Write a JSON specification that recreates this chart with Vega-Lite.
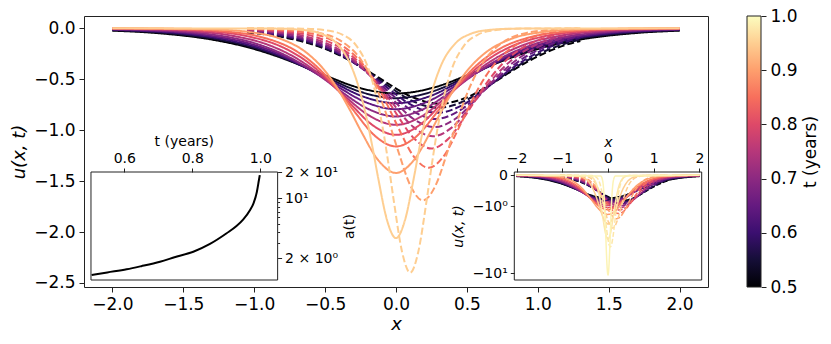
{
"$schema":"https://vega.github.io/schema/vega-lite/v6.json",
"autosize":"none","width":624,"height":271,
"padding":{"left":84,"top":16,"right":123,"bottom":57},
"background":"white",
"config":{"view":{"stroke":"#222","strokeWidth":1},"font":"DejaVu Sans",
"axis":{"labelFont":"DejaVu Sans","titleFont":"DejaVu Sans","labelColor":"#000","titleColor":"#000","tickColor":"#222","tickWidth":1,"titleFontWeight":"normal","grid":false,"labelFlush":false,"labelOverlap":false,"domain":false}},
"datasets":{
"a":[{"t":0.504,"a":1.278},{"t":0.55,"a":1.37},{"t":0.607,"a":1.489},{"t":0.65,"a":1.62},{"t":0.705,"a":1.826},{"t":0.75,"a":2.07},{"t":0.803,"a":2.386},{"t":0.852,"a":2.94},{"t":0.901,"a":3.91},{"t":0.93,"a":4.75},{"t":0.95,"a":5.68},{"t":0.97,"a":7.29},{"t":0.98,"a":8.73},{"t":0.99,"a":11.9},{"t":0.996,"a":16.3},{"t":0.9985,"a":18.6}],
"box1":[{"x0":0.502,"x1":1.051,"y0":1.118,"y1":20.2}],
"box2":[{"x0":-2.05,"x1":2.05,"y0":-12.17,"y1":0.071}],
"u":[
{"i":"s1","t":0.5,"k":"s","m":1,"x":-2,"u":-0.023},{"i":"s1","t":0.5,"k":"s","m":1,"x":-1.7,"u":-0.045},{"i":"s1","t":0.5,"k":"s","m":1,"x":-1.275,"u":-0.116},{"i":"s1","t":0.5,"k":"s","m":1,"x":-1.063,"u":-0.179},{"i":"s1","t":0.5,"k":"s","m":1,"x":-0.85,"u":-0.269},{"i":"s1","t":0.5,"k":"s","m":1,"x":-0.68,"u":-0.358},{"i":"s1","t":0.5,"k":"s","m":1,"x":-0.51,"u":-0.456},{"i":"s1","t":0.5,"k":"s","m":1,"x":-0.255,"u":-0.586},{"i":"s1","t":0.5,"k":"s","m":1,"x":0,"u":-0.64},{"i":"s1","t":0.5,"k":"s","m":1,"x":0.255,"u":-0.586},{"i":"s1","t":0.5,"k":"s","m":1,"x":0.51,"u":-0.456},{"i":"s1","t":0.5,"k":"s","m":1,"x":0.68,"u":-0.358},{"i":"s1","t":0.5,"k":"s","m":1,"x":0.85,"u":-0.269},{"i":"s1","t":0.5,"k":"s","m":1,"x":1.063,"u":-0.179},{"i":"s1","t":0.5,"k":"s","m":1,"x":1.275,"u":-0.116},{"i":"s1","t":0.5,"k":"s","m":1,"x":1.7,"u":-0.045},{"i":"s1","t":0.5,"k":"s","m":1,"x":2,"u":-0.023},
{"i":"d1","t":0.5,"k":"d","m":1,"x":-1.05,"u":-0.041},{"i":"d1","t":0.5,"k":"d","m":1,"x":-0.97,"u":-0.052},{"i":"d1","t":0.5,"k":"d","m":1,"x":-0.65,"u":-0.134},{"i":"d1","t":0.5,"k":"d","m":1,"x":-0.49,"u":-0.207},{"i":"d1","t":0.5,"k":"d","m":1,"x":-0.33,"u":-0.311},{"i":"d1","t":0.5,"k":"d","m":1,"x":-0.202,"u":-0.414},{"i":"d1","t":0.5,"k":"d","m":1,"x":-0.074,"u":-0.527},{"i":"d1","t":0.5,"k":"d","m":1,"x":0.118,"u":-0.677},{"i":"d1","t":0.5,"k":"d","m":1,"x":0.31,"u":-0.74},{"i":"d1","t":0.5,"k":"d","m":1,"x":0.502,"u":-0.677},{"i":"d1","t":0.5,"k":"d","m":1,"x":0.694,"u":-0.527},{"i":"d1","t":0.5,"k":"d","m":1,"x":0.822,"u":-0.414},{"i":"d1","t":0.5,"k":"d","m":1,"x":0.95,"u":-0.311},{"i":"d1","t":0.5,"k":"d","m":1,"x":1.11,"u":-0.207},{"i":"d1","t":0.5,"k":"d","m":1,"x":1.27,"u":-0.134},{"i":"d1","t":0.5,"k":"d","m":1,"x":1.3,"u":-0.125},
{"i":"s2","t":0.55,"k":"s","m":1,"x":-2,"u":-0.018},{"i":"s2","t":0.55,"k":"s","m":1,"x":-1.6,"u":-0.049},{"i":"s2","t":0.55,"k":"s","m":1,"x":-1.2,"u":-0.124},{"i":"s2","t":0.55,"k":"s","m":1,"x":-1.0,"u":-0.192},{"i":"s2","t":0.55,"k":"s","m":1,"x":-0.8,"u":-0.288},{"i":"s2","t":0.55,"k":"s","m":1,"x":-0.64,"u":-0.383},{"i":"s2","t":0.55,"k":"s","m":1,"x":-0.48,"u":-0.488},{"i":"s2","t":0.55,"k":"s","m":1,"x":-0.24,"u":-0.628},{"i":"s2","t":0.55,"k":"s","m":1,"x":0,"u":-0.686},{"i":"s2","t":0.55,"k":"s","m":1,"x":0.24,"u":-0.628},{"i":"s2","t":0.55,"k":"s","m":1,"x":0.48,"u":-0.488},{"i":"s2","t":0.55,"k":"s","m":1,"x":0.64,"u":-0.383},{"i":"s2","t":0.55,"k":"s","m":1,"x":0.8,"u":-0.288},{"i":"s2","t":0.55,"k":"s","m":1,"x":1.0,"u":-0.192},{"i":"s2","t":0.55,"k":"s","m":1,"x":1.2,"u":-0.124},{"i":"s2","t":0.55,"k":"s","m":1,"x":1.6,"u":-0.049},{"i":"s2","t":0.55,"k":"s","m":1,"x":2,"u":-0.018},
{"i":"d2","t":0.55,"k":"d","m":1,"x":-1.05,"u":-0.036},{"i":"d2","t":0.55,"k":"d","m":1,"x":-0.918,"u":-0.055},{"i":"d2","t":0.55,"k":"d","m":1,"x":-0.614,"u":-0.141},{"i":"d2","t":0.55,"k":"d","m":1,"x":-0.461,"u":-0.218},{"i":"d2","t":0.55,"k":"d","m":1,"x":-0.309,"u":-0.328},{"i":"d2","t":0.55,"k":"d","m":1,"x":-0.187,"u":-0.436},{"i":"d2","t":0.55,"k":"d","m":1,"x":-0.065,"u":-0.555},{"i":"d2","t":0.55,"k":"d","m":1,"x":0.117,"u":-0.714},{"i":"d2","t":0.55,"k":"d","m":1,"x":0.3,"u":-0.78},{"i":"d2","t":0.55,"k":"d","m":1,"x":0.483,"u":-0.714},{"i":"d2","t":0.55,"k":"d","m":1,"x":0.665,"u":-0.555},{"i":"d2","t":0.55,"k":"d","m":1,"x":0.787,"u":-0.436},{"i":"d2","t":0.55,"k":"d","m":1,"x":0.909,"u":-0.328},{"i":"d2","t":0.55,"k":"d","m":1,"x":1.061,"u":-0.218},{"i":"d2","t":0.55,"k":"d","m":1,"x":1.214,"u":-0.141},{"i":"d2","t":0.55,"k":"d","m":1,"x":1.3,"u":-0.109},
{"i":"s3","t":0.6,"k":"s","m":1,"x":-2,"u":-0.014},{"i":"s3","t":0.6,"k":"s","m":1,"x":-1.875,"u":-0.02},{"i":"s3","t":0.6,"k":"s","m":1,"x":-1.5,"u":-0.052},{"i":"s3","t":0.6,"k":"s","m":1,"x":-1.125,"u":-0.133},{"i":"s3","t":0.6,"k":"s","m":1,"x":-0.9375,"u":-0.206},{"i":"s3","t":0.6,"k":"s","m":1,"x":-0.75,"u":-0.309},{"i":"s3","t":0.6,"k":"s","m":1,"x":-0.6,"u":-0.411},{"i":"s3","t":0.6,"k":"s","m":1,"x":-0.45,"u":-0.523},{"i":"s3","t":0.6,"k":"s","m":1,"x":-0.225,"u":-0.673},{"i":"s3","t":0.6,"k":"s","m":1,"x":0,"u":-0.735},{"i":"s3","t":0.6,"k":"s","m":1,"x":0.225,"u":-0.673},{"i":"s3","t":0.6,"k":"s","m":1,"x":0.45,"u":-0.523},{"i":"s3","t":0.6,"k":"s","m":1,"x":0.6,"u":-0.411},{"i":"s3","t":0.6,"k":"s","m":1,"x":0.75,"u":-0.309},{"i":"s3","t":0.6,"k":"s","m":1,"x":0.9375,"u":-0.206},{"i":"s3","t":0.6,"k":"s","m":1,"x":1.125,"u":-0.133},{"i":"s3","t":0.6,"k":"s","m":1,"x":1.5,"u":-0.052},{"i":"s3","t":0.6,"k":"s","m":1,"x":1.875,"u":-0.02},{"i":"s3","t":0.6,"k":"s","m":1,"x":2,"u":-0.014},
{"i":"d3","t":0.6,"k":"d","m":1,"x":-1.05,"u":-0.031},{"i":"d3","t":0.6,"k":"d","m":1,"x":-0.858,"u":-0.059},{"i":"d3","t":0.6,"k":"d","m":1,"x":-0.571,"u":-0.15},{"i":"d3","t":0.6,"k":"d","m":1,"x":-0.428,"u":-0.232},{"i":"d3","t":0.6,"k":"d","m":1,"x":-0.284,"u":-0.349},{"i":"d3","t":0.6,"k":"d","m":1,"x":-0.169,"u":-0.464},{"i":"d3","t":0.6,"k":"d","m":1,"x":-0.054,"u":-0.591},{"i":"d3","t":0.6,"k":"d","m":1,"x":0.118,"u":-0.759},{"i":"d3","t":0.6,"k":"d","m":1,"x":0.29,"u":-0.83},{"i":"d3","t":0.6,"k":"d","m":1,"x":0.462,"u":-0.759},{"i":"d3","t":0.6,"k":"d","m":1,"x":0.634,"u":-0.591},{"i":"d3","t":0.6,"k":"d","m":1,"x":0.749,"u":-0.464},{"i":"d3","t":0.6,"k":"d","m":1,"x":0.864,"u":-0.349},{"i":"d3","t":0.6,"k":"d","m":1,"x":1.008,"u":-0.232},{"i":"d3","t":0.6,"k":"d","m":1,"x":1.151,"u":-0.15},{"i":"d3","t":0.6,"k":"d","m":1,"x":1.3,"u":-0.093},
{"i":"s4","t":0.65,"k":"s","m":1,"x":-2,"u":-0.01},{"i":"s4","t":0.65,"k":"s","m":1,"x":-1.75,"u":-0.021},{"i":"s4","t":0.65,"k":"s","m":1,"x":-1.4,"u":-0.056},{"i":"s4","t":0.65,"k":"s","m":1,"x":-1.05,"u":-0.144},{"i":"s4","t":0.65,"k":"s","m":1,"x":-0.875,"u":-0.222},{"i":"s4","t":0.65,"k":"s","m":1,"x":-0.7,"u":-0.333},{"i":"s4","t":0.65,"k":"s","m":1,"x":-0.56,"u":-0.444},{"i":"s4","t":0.65,"k":"s","m":1,"x":-0.42,"u":-0.565},{"i":"s4","t":0.65,"k":"s","m":1,"x":-0.21,"u":-0.727},{"i":"s4","t":0.65,"k":"s","m":1,"x":0,"u":-0.794},{"i":"s4","t":0.65,"k":"s","m":1,"x":0.21,"u":-0.727},{"i":"s4","t":0.65,"k":"s","m":1,"x":0.42,"u":-0.565},{"i":"s4","t":0.65,"k":"s","m":1,"x":0.56,"u":-0.444},{"i":"s4","t":0.65,"k":"s","m":1,"x":0.7,"u":-0.333},{"i":"s4","t":0.65,"k":"s","m":1,"x":0.875,"u":-0.222},{"i":"s4","t":0.65,"k":"s","m":1,"x":1.05,"u":-0.144},{"i":"s4","t":0.65,"k":"s","m":1,"x":1.4,"u":-0.056},{"i":"s4","t":0.65,"k":"s","m":1,"x":1.75,"u":-0.021},{"i":"s4","t":0.65,"k":"s","m":1,"x":2,"u":-0.01},
{"i":"d4","t":0.65,"k":"d","m":1,"x":-1.05,"u":-0.025},{"i":"d4","t":0.65,"k":"d","m":1,"x":-0.794,"u":-0.063},{"i":"d4","t":0.65,"k":"d","m":1,"x":-0.526,"u":-0.161},{"i":"d4","t":0.65,"k":"d","m":1,"x":-0.391,"u":-0.249},{"i":"d4","t":0.65,"k":"d","m":1,"x":-0.257,"u":-0.374},{"i":"d4","t":0.65,"k":"d","m":1,"x":-0.15,"u":-0.498},{"i":"d4","t":0.65,"k":"d","m":1,"x":-0.042,"u":-0.634},{"i":"d4","t":0.65,"k":"d","m":1,"x":0.119,"u":-0.814},{"i":"d4","t":0.65,"k":"d","m":1,"x":0.28,"u":-0.89},{"i":"d4","t":0.65,"k":"d","m":1,"x":0.441,"u":-0.814},{"i":"d4","t":0.65,"k":"d","m":1,"x":0.602,"u":-0.634},{"i":"d4","t":0.65,"k":"d","m":1,"x":0.71,"u":-0.498},{"i":"d4","t":0.65,"k":"d","m":1,"x":0.817,"u":-0.374},{"i":"d4","t":0.65,"k":"d","m":1,"x":0.951,"u":-0.249},{"i":"d4","t":0.65,"k":"d","m":1,"x":1.086,"u":-0.161},{"i":"d4","t":0.65,"k":"d","m":1,"x":1.3,"u":-0.076},
{"i":"s5","t":0.7,"k":"s","m":1,"x":-2,"u":-0.007},{"i":"s5","t":0.7,"k":"s","m":1,"x":-1.625,"u":-0.023},{"i":"s5","t":0.7,"k":"s","m":1,"x":-1.3,"u":-0.061},{"i":"s5","t":0.7,"k":"s","m":1,"x":-0.975,"u":-0.156},{"i":"s5","t":0.7,"k":"s","m":1,"x":-0.8125,"u":-0.243},{"i":"s5","t":0.7,"k":"s","m":1,"x":-0.65,"u":-0.364},{"i":"s5","t":0.7,"k":"s","m":1,"x":-0.52,"u":-0.484},{"i":"s5","t":0.7,"k":"s","m":1,"x":-0.39,"u":-0.617},{"i":"s5","t":0.7,"k":"s","m":1,"x":-0.195,"u":-0.792},{"i":"s5","t":0.7,"k":"s","m":1,"x":0,"u":-0.866},{"i":"s5","t":0.7,"k":"s","m":1,"x":0.195,"u":-0.792},{"i":"s5","t":0.7,"k":"s","m":1,"x":0.39,"u":-0.617},{"i":"s5","t":0.7,"k":"s","m":1,"x":0.52,"u":-0.484},{"i":"s5","t":0.7,"k":"s","m":1,"x":0.65,"u":-0.364},{"i":"s5","t":0.7,"k":"s","m":1,"x":0.8125,"u":-0.243},{"i":"s5","t":0.7,"k":"s","m":1,"x":0.975,"u":-0.156},{"i":"s5","t":0.7,"k":"s","m":1,"x":1.3,"u":-0.061},{"i":"s5","t":0.7,"k":"s","m":1,"x":1.625,"u":-0.023},{"i":"s5","t":0.7,"k":"s","m":1,"x":2,"u":-0.007},
{"i":"d5","t":0.7,"k":"d","m":1,"x":-1.05,"u":-0.019},{"i":"d5","t":0.7,"k":"d","m":1,"x":-0.968,"u":-0.026},{"i":"d5","t":0.7,"k":"d","m":1,"x":-0.72,"u":-0.069},{"i":"d5","t":0.7,"k":"d","m":1,"x":-0.473,"u":-0.176},{"i":"d5","t":0.7,"k":"d","m":1,"x":-0.349,"u":-0.272},{"i":"d5","t":0.7,"k":"d","m":1,"x":-0.225,"u":-0.407},{"i":"d5","t":0.7,"k":"d","m":1,"x":-0.126,"u":-0.542},{"i":"d5","t":0.7,"k":"d","m":1,"x":-0.027,"u":-0.691},{"i":"d5","t":0.7,"k":"d","m":1,"x":0.121,"u":-0.888},{"i":"d5","t":0.7,"k":"d","m":1,"x":0.27,"u":-0.97},{"i":"d5","t":0.7,"k":"d","m":1,"x":0.419,"u":-0.888},{"i":"d5","t":0.7,"k":"d","m":1,"x":0.567,"u":-0.691},{"i":"d5","t":0.7,"k":"d","m":1,"x":0.666,"u":-0.542},{"i":"d5","t":0.7,"k":"d","m":1,"x":0.765,"u":-0.407},{"i":"d5","t":0.7,"k":"d","m":1,"x":0.889,"u":-0.272},{"i":"d5","t":0.7,"k":"d","m":1,"x":1.013,"u":-0.176},{"i":"d5","t":0.7,"k":"d","m":1,"x":1.26,"u":-0.069},{"i":"d5","t":0.7,"k":"d","m":1,"x":1.3,"u":-0.059},
{"i":"s6","t":0.75,"k":"s","m":1,"x":-2,"u":-0.004},{"i":"s6","t":0.75,"k":"s","m":1,"x":-1.77,"u":-0.009},{"i":"s6","t":0.75,"k":"s","m":1,"x":-1.475,"u":-0.025},{"i":"s6","t":0.75,"k":"s","m":1,"x":-1.18,"u":-0.067},{"i":"s6","t":0.75,"k":"s","m":1,"x":-0.885,"u":-0.171},{"i":"s6","t":0.75,"k":"s","m":1,"x":-0.7375,"u":-0.266},{"i":"s6","t":0.75,"k":"s","m":1,"x":-0.59,"u":-0.398},{"i":"s6","t":0.75,"k":"s","m":1,"x":-0.472,"u":-0.53},{"i":"s6","t":0.75,"k":"s","m":1,"x":-0.354,"u":-0.675},{"i":"s6","t":0.75,"k":"s","m":1,"x":-0.177,"u":-0.867},{"i":"s6","t":0.75,"k":"s","m":1,"x":0,"u":-0.948},{"i":"s6","t":0.75,"k":"s","m":1,"x":0.177,"u":-0.867},{"i":"s6","t":0.75,"k":"s","m":1,"x":0.354,"u":-0.675},{"i":"s6","t":0.75,"k":"s","m":1,"x":0.472,"u":-0.53},{"i":"s6","t":0.75,"k":"s","m":1,"x":0.59,"u":-0.398},{"i":"s6","t":0.75,"k":"s","m":1,"x":0.7375,"u":-0.266},{"i":"s6","t":0.75,"k":"s","m":1,"x":0.885,"u":-0.171},{"i":"s6","t":0.75,"k":"s","m":1,"x":1.18,"u":-0.067},{"i":"s6","t":0.75,"k":"s","m":1,"x":1.475,"u":-0.025},{"i":"s6","t":0.75,"k":"s","m":1,"x":1.77,"u":-0.009},{"i":"s6","t":0.75,"k":"s","m":1,"x":2,"u":-0.004},
{"i":"d6","t":0.75,"k":"d","m":1,"x":-1.05,"u":-0.013},{"i":"d6","t":0.75,"k":"d","m":1,"x":-0.878,"u":-0.028},{"i":"d6","t":0.75,"k":"d","m":1,"x":-0.65,"u":-0.075},{"i":"d6","t":0.75,"k":"d","m":1,"x":-0.423,"u":-0.192},{"i":"d6","t":0.75,"k":"d","m":1,"x":-0.309,"u":-0.297},{"i":"d6","t":0.75,"k":"d","m":1,"x":-0.195,"u":-0.445},{"i":"d6","t":0.75,"k":"d","m":1,"x":-0.104,"u":-0.593},{"i":"d6","t":0.75,"k":"d","m":1,"x":-0.013,"u":-0.755},{"i":"d6","t":0.75,"k":"d","m":1,"x":0.123,"u":-0.97},{"i":"d6","t":0.75,"k":"d","m":1,"x":0.26,"u":-1.06},{"i":"d6","t":0.75,"k":"d","m":1,"x":0.397,"u":-0.97},{"i":"d6","t":0.75,"k":"d","m":1,"x":0.533,"u":-0.755},{"i":"d6","t":0.75,"k":"d","m":1,"x":0.624,"u":-0.593},{"i":"d6","t":0.75,"k":"d","m":1,"x":0.715,"u":-0.445},{"i":"d6","t":0.75,"k":"d","m":1,"x":0.829,"u":-0.297},{"i":"d6","t":0.75,"k":"d","m":1,"x":0.943,"u":-0.192},{"i":"d6","t":0.75,"k":"d","m":1,"x":1.17,"u":-0.075},{"i":"d6","t":0.75,"k":"d","m":1,"x":1.3,"u":-0.043},
{"i":"s7","t":0.8,"k":"s","m":1,"x":-2,"u":-0.002},{"i":"s7","t":0.8,"k":"s","m":1,"x":-1.59,"u":-0.01},{"i":"s7","t":0.8,"k":"s","m":1,"x":-1.325,"u":-0.028},{"i":"s7","t":0.8,"k":"s","m":1,"x":-1.06,"u":-0.074},{"i":"s7","t":0.8,"k":"s","m":1,"x":-0.795,"u":-0.189},{"i":"s7","t":0.8,"k":"s","m":1,"x":-0.6625,"u":-0.293},{"i":"s7","t":0.8,"k":"s","m":1,"x":-0.53,"u":-0.439},{"i":"s7","t":0.8,"k":"s","m":1,"x":-0.424,"u":-0.585},{"i":"s7","t":0.8,"k":"s","m":1,"x":-0.318,"u":-0.745},{"i":"s7","t":0.8,"k":"s","m":1,"x":-0.159,"u":-0.957},{"i":"s7","t":0.8,"k":"s","m":1,"x":0,"u":-1.046},{"i":"s7","t":0.8,"k":"s","m":1,"x":0.159,"u":-0.957},{"i":"s7","t":0.8,"k":"s","m":1,"x":0.318,"u":-0.745},{"i":"s7","t":0.8,"k":"s","m":1,"x":0.424,"u":-0.585},{"i":"s7","t":0.8,"k":"s","m":1,"x":0.53,"u":-0.439},{"i":"s7","t":0.8,"k":"s","m":1,"x":0.6625,"u":-0.293},{"i":"s7","t":0.8,"k":"s","m":1,"x":0.795,"u":-0.189},{"i":"s7","t":0.8,"k":"s","m":1,"x":1.06,"u":-0.074},{"i":"s7","t":0.8,"k":"s","m":1,"x":1.325,"u":-0.028},{"i":"s7","t":0.8,"k":"s","m":1,"x":1.59,"u":-0.01},{"i":"s7","t":0.8,"k":"s","m":1,"x":2,"u":-0.002},
{"i":"d7","t":0.8,"k":"d","m":1,"x":-1.05,"u":-0.009},{"i":"d7","t":0.8,"k":"d","m":1,"x":-0.983,"u":-0.012},{"i":"d7","t":0.8,"k":"d","m":1,"x":-0.778,"u":-0.031},{"i":"d7","t":0.8,"k":"d","m":1,"x":-0.572,"u":-0.083},{"i":"d7","t":0.8,"k":"d","m":1,"x":-0.367,"u":-0.214},{"i":"d7","t":0.8,"k":"d","m":1,"x":-0.264,"u":-0.33},{"i":"d7","t":0.8,"k":"d","m":1,"x":-0.161,"u":-0.496},{"i":"d7","t":0.8,"k":"d","m":1,"x":-0.079,"u":-0.66},{"i":"d7","t":0.8,"k":"d","m":1,"x":0.003,"u":-0.84},{"i":"d7","t":0.8,"k":"d","m":1,"x":0.127,"u":-1.08},{"i":"d7","t":0.8,"k":"d","m":1,"x":0.25,"u":-1.18},{"i":"d7","t":0.8,"k":"d","m":1,"x":0.373,"u":-1.08},{"i":"d7","t":0.8,"k":"d","m":1,"x":0.497,"u":-0.84},{"i":"d7","t":0.8,"k":"d","m":1,"x":0.579,"u":-0.66},{"i":"d7","t":0.8,"k":"d","m":1,"x":0.661,"u":-0.496},{"i":"d7","t":0.8,"k":"d","m":1,"x":0.764,"u":-0.33},{"i":"d7","t":0.8,"k":"d","m":1,"x":0.867,"u":-0.214},{"i":"d7","t":0.8,"k":"d","m":1,"x":1.072,"u":-0.083},{"i":"d7","t":0.8,"k":"d","m":1,"x":1.278,"u":-0.031},{"i":"d7","t":0.8,"k":"d","m":1,"x":1.3,"u":-0.028},
{"i":"s8","t":0.85,"k":"s","m":1,"x":-2,"u":-0.001},{"i":"s8","t":0.85,"k":"s","m":1,"x":-1.92,"u":-0.0015},{"i":"s8","t":0.85,"k":"s","m":1,"x":-1.44,"u":-0.0115},{"i":"s8","t":0.85,"k":"s","m":1,"x":-1.2,"u":-0.031},{"i":"s8","t":0.85,"k":"s","m":1,"x":-0.96,"u":-0.082},{"i":"s8","t":0.85,"k":"s","m":1,"x":-0.72,"u":-0.21},{"i":"s8","t":0.85,"k":"s","m":1,"x":-0.6,"u":-0.325},{"i":"s8","t":0.85,"k":"s","m":1,"x":-0.48,"u":-0.487},{"i":"s8","t":0.85,"k":"s","m":1,"x":-0.384,"u":-0.648},{"i":"s8","t":0.85,"k":"s","m":1,"x":-0.288,"u":-0.826},{"i":"s8","t":0.85,"k":"s","m":1,"x":-0.144,"u":-1.061},{"i":"s8","t":0.85,"k":"s","m":1,"x":0,"u":-1.16},{"i":"s8","t":0.85,"k":"s","m":1,"x":0.144,"u":-1.061},{"i":"s8","t":0.85,"k":"s","m":1,"x":0.288,"u":-0.826},{"i":"s8","t":0.85,"k":"s","m":1,"x":0.384,"u":-0.648},{"i":"s8","t":0.85,"k":"s","m":1,"x":0.48,"u":-0.487},{"i":"s8","t":0.85,"k":"s","m":1,"x":0.6,"u":-0.325},{"i":"s8","t":0.85,"k":"s","m":1,"x":0.72,"u":-0.21},{"i":"s8","t":0.85,"k":"s","m":1,"x":0.96,"u":-0.082},{"i":"s8","t":0.85,"k":"s","m":1,"x":1.2,"u":-0.031},{"i":"s8","t":0.85,"k":"s","m":1,"x":1.44,"u":-0.0115},{"i":"s8","t":0.85,"k":"s","m":1,"x":1.92,"u":-0.0015},{"i":"s8","t":0.85,"k":"s","m":1,"x":2,"u":-0.001},
{"i":"d8","t":0.85,"k":"d","m":1,"x":-1.05,"u":-0.004},{"i":"d8","t":0.85,"k":"d","m":1,"x":-0.841,"u":-0.014},{"i":"d8","t":0.85,"k":"d","m":1,"x":-0.663,"u":-0.036},{"i":"d8","t":0.85,"k":"d","m":1,"x":-0.484,"u":-0.097},{"i":"d8","t":0.85,"k":"d","m":1,"x":-0.306,"u":-0.248},{"i":"d8","t":0.85,"k":"d","m":1,"x":-0.216,"u":-0.384},{"i":"d8","t":0.85,"k":"d","m":1,"x":-0.127,"u":-0.575},{"i":"d8","t":0.85,"k":"d","m":1,"x":-0.056,"u":-0.766},{"i":"d8","t":0.85,"k":"d","m":1,"x":0.016,"u":-0.975},{"i":"d8","t":0.85,"k":"d","m":1,"x":0.123,"u":-1.254},{"i":"d8","t":0.85,"k":"d","m":1,"x":0.23,"u":-1.37},{"i":"d8","t":0.85,"k":"d","m":1,"x":0.337,"u":-1.254},{"i":"d8","t":0.85,"k":"d","m":1,"x":0.444,"u":-0.975},{"i":"d8","t":0.85,"k":"d","m":1,"x":0.516,"u":-0.766},{"i":"d8","t":0.85,"k":"d","m":1,"x":0.587,"u":-0.575},{"i":"d8","t":0.85,"k":"d","m":1,"x":0.676,"u":-0.384},{"i":"d8","t":0.85,"k":"d","m":1,"x":0.766,"u":-0.248},{"i":"d8","t":0.85,"k":"d","m":1,"x":0.944,"u":-0.097},{"i":"d8","t":0.85,"k":"d","m":1,"x":1.123,"u":-0.036},{"i":"d8","t":0.85,"k":"d","m":1,"x":1.3,"u":-0.014},
{"i":"s9","t":0.9,"k":"s","m":1,"x":-2,"u":0},{"i":"s9","t":0.9,"k":"s","m":1,"x":-1.64,"u":-0.002},{"i":"s9","t":0.9,"k":"s","m":1,"x":-1.23,"u":-0.014},{"i":"s9","t":0.9,"k":"s","m":1,"x":-1.025,"u":-0.038},{"i":"s9","t":0.9,"k":"s","m":1,"x":-0.82,"u":-0.1},{"i":"s9","t":0.9,"k":"s","m":1,"x":-0.615,"u":-0.257},{"i":"s9","t":0.9,"k":"s","m":1,"x":-0.5125,"u":-0.398},{"i":"s9","t":0.9,"k":"s","m":1,"x":-0.41,"u":-0.596},{"i":"s9","t":0.9,"k":"s","m":1,"x":-0.328,"u":-0.794},{"i":"s9","t":0.9,"k":"s","m":1,"x":-0.246,"u":-1.011},{"i":"s9","t":0.9,"k":"s","m":1,"x":-0.123,"u":-1.299},{"i":"s9","t":0.9,"k":"s","m":1,"x":0,"u":-1.42},{"i":"s9","t":0.9,"k":"s","m":1,"x":0.123,"u":-1.299},{"i":"s9","t":0.9,"k":"s","m":1,"x":0.246,"u":-1.011},{"i":"s9","t":0.9,"k":"s","m":1,"x":0.328,"u":-0.794},{"i":"s9","t":0.9,"k":"s","m":1,"x":0.41,"u":-0.596},{"i":"s9","t":0.9,"k":"s","m":1,"x":0.5125,"u":-0.398},{"i":"s9","t":0.9,"k":"s","m":1,"x":0.615,"u":-0.257},{"i":"s9","t":0.9,"k":"s","m":1,"x":0.82,"u":-0.1},{"i":"s9","t":0.9,"k":"s","m":1,"x":1.025,"u":-0.038},{"i":"s9","t":0.9,"k":"s","m":1,"x":1.23,"u":-0.014},{"i":"s9","t":0.9,"k":"s","m":1,"x":1.64,"u":-0.002},{"i":"s9","t":0.9,"k":"s","m":1,"x":2,"u":0},
{"i":"d9","t":0.9,"k":"d","m":1,"x":-1.05,"u":-0.001},{"i":"d9","t":0.9,"k":"d","m":1,"x":-0.978,"u":-0.002},{"i":"d9","t":0.9,"k":"d","m":1,"x":-0.686,"u":-0.017},{"i":"d9","t":0.9,"k":"d","m":1,"x":-0.54,"u":-0.045},{"i":"d9","t":0.9,"k":"d","m":1,"x":-0.394,"u":-0.119},{"i":"d9","t":0.9,"k":"d","m":1,"x":-0.248,"u":-0.306},{"i":"d9","t":0.9,"k":"d","m":1,"x":-0.175,"u":-0.473},{"i":"d9","t":0.9,"k":"d","m":1,"x":-0.102,"u":-0.71},{"i":"d9","t":0.9,"k":"d","m":1,"x":-0.044,"u":-0.945},{"i":"d9","t":0.9,"k":"d","m":1,"x":0.015,"u":-1.203},{"i":"d9","t":0.9,"k":"d","m":1,"x":0.102,"u":-1.546},{"i":"d9","t":0.9,"k":"d","m":1,"x":0.19,"u":-1.69},{"i":"d9","t":0.9,"k":"d","m":1,"x":0.278,"u":-1.546},{"i":"d9","t":0.9,"k":"d","m":1,"x":0.365,"u":-1.203},{"i":"d9","t":0.9,"k":"d","m":1,"x":0.424,"u":-0.945},{"i":"d9","t":0.9,"k":"d","m":1,"x":0.482,"u":-0.71},{"i":"d9","t":0.9,"k":"d","m":1,"x":0.555,"u":-0.473},{"i":"d9","t":0.9,"k":"d","m":1,"x":0.628,"u":-0.306},{"i":"d9","t":0.9,"k":"d","m":1,"x":0.774,"u":-0.119},{"i":"d9","t":0.9,"k":"d","m":1,"x":0.92,"u":-0.045},{"i":"d9","t":0.9,"k":"d","m":1,"x":1.066,"u":-0.017},{"i":"d9","t":0.9,"k":"d","m":1,"x":1.3,"u":-0.002},
{"i":"s10","t":0.95,"k":"s","m":1,"x":-2,"u":0},{"i":"s10","t":0.95,"k":"s","m":1,"x":-0.84,"u":-0.003},{"i":"s10","t":0.95,"k":"s","m":1,"x":-0.63,"u":-0.02},{"i":"s10","t":0.95,"k":"s","m":1,"x":-0.525,"u":-0.055},{"i":"s10","t":0.95,"k":"s","m":1,"x":-0.42,"u":-0.146},{"i":"s10","t":0.95,"k":"s","m":1,"x":-0.315,"u":-0.373},{"i":"s10","t":0.95,"k":"s","m":1,"x":-0.263,"u":-0.577},{"i":"s10","t":0.95,"k":"s","m":1,"x":-0.21,"u":-0.865},{"i":"s10","t":0.95,"k":"s","m":1,"x":-0.168,"u":-1.152},{"i":"s10","t":0.95,"k":"s","m":1,"x":-0.126,"u":-1.467},{"i":"s10","t":0.95,"k":"s","m":1,"x":-0.063,"u":-1.885},{"i":"s10","t":0.95,"k":"s","m":1,"x":0,"u":-2.06},{"i":"s10","t":0.95,"k":"s","m":1,"x":0.063,"u":-1.885},{"i":"s10","t":0.95,"k":"s","m":1,"x":0.126,"u":-1.467},{"i":"s10","t":0.95,"k":"s","m":1,"x":0.168,"u":-1.152},{"i":"s10","t":0.95,"k":"s","m":1,"x":0.21,"u":-0.865},{"i":"s10","t":0.95,"k":"s","m":1,"x":0.263,"u":-0.577},{"i":"s10","t":0.95,"k":"s","m":1,"x":0.315,"u":-0.373},{"i":"s10","t":0.95,"k":"s","m":1,"x":0.42,"u":-0.146},{"i":"s10","t":0.95,"k":"s","m":1,"x":0.525,"u":-0.055},{"i":"s10","t":0.95,"k":"s","m":1,"x":0.63,"u":-0.02},{"i":"s10","t":0.95,"k":"s","m":1,"x":0.84,"u":-0.003},{"i":"s10","t":0.95,"k":"s","m":1,"x":2,"u":0},
{"i":"d10","t":0.95,"k":"d","m":1,"x":-1.05,"u":0},{"i":"d10","t":0.95,"k":"d","m":1,"x":-0.66,"u":-0.003},{"i":"d10","t":0.95,"k":"d","m":1,"x":-0.47,"u":-0.024},{"i":"d10","t":0.95,"k":"d","m":1,"x":-0.375,"u":-0.064},{"i":"d10","t":0.95,"k":"d","m":1,"x":-0.28,"u":-0.17},{"i":"d10","t":0.95,"k":"d","m":1,"x":-0.185,"u":-0.434},{"i":"d10","t":0.95,"k":"d","m":1,"x":-0.138,"u":-0.672},{"i":"d10","t":0.95,"k":"d","m":1,"x":-0.09,"u":-1.008},{"i":"d10","t":0.95,"k":"d","m":1,"x":-0.052,"u":-1.342},{"i":"d10","t":0.95,"k":"d","m":1,"x":-0.014,"u":-1.709},{"i":"d10","t":0.95,"k":"d","m":1,"x":0.043,"u":-2.196},{"i":"d10","t":0.95,"k":"d","m":1,"x":0.1,"u":-2.4},{"i":"d10","t":0.95,"k":"d","m":1,"x":0.157,"u":-2.196},{"i":"d10","t":0.95,"k":"d","m":1,"x":0.214,"u":-1.709},{"i":"d10","t":0.95,"k":"d","m":1,"x":0.252,"u":-1.342},{"i":"d10","t":0.95,"k":"d","m":1,"x":0.29,"u":-1.008},{"i":"d10","t":0.95,"k":"d","m":1,"x":0.338,"u":-0.672},{"i":"d10","t":0.95,"k":"d","m":1,"x":0.385,"u":-0.434},{"i":"d10","t":0.95,"k":"d","m":1,"x":0.48,"u":-0.17},{"i":"d10","t":0.95,"k":"d","m":1,"x":0.575,"u":-0.064},{"i":"d10","t":0.95,"k":"d","m":1,"x":0.67,"u":-0.024},{"i":"d10","t":0.95,"k":"d","m":1,"x":0.86,"u":-0.003},{"i":"d10","t":0.95,"k":"d","m":1,"x":1.3,"u":0},
{"i":"e1","t":0.975,"k":"s","m":0,"x":-2,"u":0},{"i":"e1","t":0.975,"k":"s","m":0,"x":-0.48,"u":-0.005},{"i":"e1","t":0.975,"k":"s","m":0,"x":-0.36,"u":-0.035},{"i":"e1","t":0.975,"k":"s","m":0,"x":-0.3,"u":-0.093},{"i":"e1","t":0.975,"k":"s","m":0,"x":-0.24,"u":-0.247},{"i":"e1","t":0.975,"k":"s","m":0,"x":-0.18,"u":-0.634},{"i":"e1","t":0.975,"k":"s","m":0,"x":-0.15,"u":-0.98},{"i":"e1","t":0.975,"k":"s","m":0,"x":-0.12,"u":-1.47},{"i":"e1","t":0.975,"k":"s","m":0,"x":-0.096,"u":-1.957},{"i":"e1","t":0.975,"k":"s","m":0,"x":-0.072,"u":-2.492},{"i":"e1","t":0.975,"k":"s","m":0,"x":-0.036,"u":-3.203},{"i":"e1","t":0.975,"k":"s","m":0,"x":0,"u":-3.5},{"i":"e1","t":0.975,"k":"s","m":0,"x":0.036,"u":-3.203},{"i":"e1","t":0.975,"k":"s","m":0,"x":0.072,"u":-2.492},{"i":"e1","t":0.975,"k":"s","m":0,"x":0.096,"u":-1.957},{"i":"e1","t":0.975,"k":"s","m":0,"x":0.12,"u":-1.47},{"i":"e1","t":0.975,"k":"s","m":0,"x":0.15,"u":-0.98},{"i":"e1","t":0.975,"k":"s","m":0,"x":0.18,"u":-0.634},{"i":"e1","t":0.975,"k":"s","m":0,"x":0.24,"u":-0.247},{"i":"e1","t":0.975,"k":"s","m":0,"x":0.3,"u":-0.093},{"i":"e1","t":0.975,"k":"s","m":0,"x":0.36,"u":-0.035},{"i":"e1","t":0.975,"k":"s","m":0,"x":0.48,"u":-0.005},{"i":"e1","t":0.975,"k":"s","m":0,"x":2,"u":0},
{"i":"e3","t":0.975,"k":"d","m":0,"x":-1.05,"u":0},{"i":"e3","t":0.975,"k":"d","m":0,"x":-0.35,"u":-0.006},{"i":"e3","t":0.975,"k":"d","m":0,"x":-0.25,"u":-0.045},{"i":"e3","t":0.975,"k":"d","m":0,"x":-0.2,"u":-0.12},{"i":"e3","t":0.975,"k":"d","m":0,"x":-0.15,"u":-0.318},{"i":"e3","t":0.975,"k":"d","m":0,"x":-0.1,"u":-0.813},{"i":"e3","t":0.975,"k":"d","m":0,"x":-0.075,"u":-1.26},{"i":"e3","t":0.975,"k":"d","m":0,"x":-0.05,"u":-1.89},{"i":"e3","t":0.975,"k":"d","m":0,"x":-0.03,"u":-2.516},{"i":"e3","t":0.975,"k":"d","m":0,"x":-0.01,"u":-3.204},{"i":"e3","t":0.975,"k":"d","m":0,"x":0.02,"u":-4.118},{"i":"e3","t":0.975,"k":"d","m":0,"x":0.05,"u":-4.5},{"i":"e3","t":0.975,"k":"d","m":0,"x":0.08,"u":-4.118},{"i":"e3","t":0.975,"k":"d","m":0,"x":0.11,"u":-3.204},{"i":"e3","t":0.975,"k":"d","m":0,"x":0.13,"u":-2.516},{"i":"e3","t":0.975,"k":"d","m":0,"x":0.15,"u":-1.89},{"i":"e3","t":0.975,"k":"d","m":0,"x":0.175,"u":-1.26},{"i":"e3","t":0.975,"k":"d","m":0,"x":0.2,"u":-0.813},{"i":"e3","t":0.975,"k":"d","m":0,"x":0.25,"u":-0.318},{"i":"e3","t":0.975,"k":"d","m":0,"x":0.3,"u":-0.12},{"i":"e3","t":0.975,"k":"d","m":0,"x":0.35,"u":-0.045},{"i":"e3","t":0.975,"k":"d","m":0,"x":0.45,"u":-0.006},{"i":"e3","t":0.975,"k":"d","m":0,"x":1.3,"u":0},
{"i":"e2","t":0.99,"k":"s","m":0,"x":-2,"u":0},{"i":"e2","t":0.99,"k":"s","m":0,"x":-0.16,"u":-0.014},{"i":"e2","t":0.99,"k":"s","m":0,"x":-0.12,"u":-0.104},{"i":"e2","t":0.99,"k":"s","m":0,"x":-0.1,"u":-0.279},{"i":"e2","t":0.99,"k":"s","m":0,"x":-0.08,"u":-0.742},{"i":"e2","t":0.99,"k":"s","m":0,"x":-0.06,"u":-1.9},{"i":"e2","t":0.99,"k":"s","m":0,"x":-0.05,"u":-2.94},{"i":"e2","t":0.99,"k":"s","m":0,"x":-0.04,"u":-4.41},{"i":"e2","t":0.99,"k":"s","m":0,"x":-0.032,"u":-5.87},{"i":"e2","t":0.99,"k":"s","m":0,"x":-0.024,"u":-7.48},{"i":"e2","t":0.99,"k":"s","m":0,"x":-0.012,"u":-9.61},{"i":"e2","t":0.99,"k":"s","m":0,"x":0,"u":-10.5},{"i":"e2","t":0.99,"k":"s","m":0,"x":0.012,"u":-9.61},{"i":"e2","t":0.99,"k":"s","m":0,"x":0.024,"u":-7.48},{"i":"e2","t":0.99,"k":"s","m":0,"x":0.032,"u":-5.87},{"i":"e2","t":0.99,"k":"s","m":0,"x":0.04,"u":-4.41},{"i":"e2","t":0.99,"k":"s","m":0,"x":0.05,"u":-2.94},{"i":"e2","t":0.99,"k":"s","m":0,"x":0.06,"u":-1.9},{"i":"e2","t":0.99,"k":"s","m":0,"x":0.08,"u":-0.742},{"i":"e2","t":0.99,"k":"s","m":0,"x":0.1,"u":-0.279},{"i":"e2","t":0.99,"k":"s","m":0,"x":0.12,"u":-0.104},{"i":"e2","t":0.99,"k":"s","m":0,"x":0.16,"u":-0.014},{"i":"e2","t":0.99,"k":"s","m":0,"x":2,"u":0}
]},
"resolve":{"scale":{"x":"independent","y":"independent","strokeDash":"independent"},"axis":{"x":"independent","y":"independent"}},
"layer":[
{"data":{"name":"u"},"transform":[{"filter":"datum.m == 1"}],
 "mark":{"type":"line","strokeWidth":2,"interpolate":"monotone"},
 "encoding":{
  "x":{"field":"x","type":"quantitative","scale":{"domain":[-2.2,2.2],"nice":false,"zero":false},
   "axis":{"orient":"bottom","values":[-2,-1.5,-1,-0.5,0,0.5,1,1.5,2],"format":".1f","labelFontSize":17,"tickSize":5,"labelPadding":4,"title":"x","titleFontSize":18,"titleFontStyle":"italic","titlePadding":3}},
  "y":{"field":"u","type":"quantitative","scale":{"domain":[-2.54,0.121],"nice":false,"zero":false},
   "axis":{"orient":"left","values":[0,-0.5,-1,-1.5,-2,-2.5],"format":".1f","labelFontSize":17,"tickSize":5,"labelPadding":4,"title":"u(x, t)","titleFontSize":18,"titleFontStyle":"italic","titlePadding":5}},
  "color":{"field":"t","type":"quantitative","scale":{"scheme":"magma","domain":[0.5,1]},
   "legend":{"orient":"none","legendX":663,"legendY":0,"direction":"vertical","gradientLength":271,"gradientThickness":14,"title":null,"labelExpr":"''","gradientStrokeColor":"#222","gradientStrokeWidth":1,"padding":0}},
  "strokeDash":{"field":"k","type":"nominal","scale":{"domain":["s","d"],"range":[[1,0],[7,3]]},"legend":null},
  "detail":{"field":"i","type":"nominal"}}},
{"data":{"name":"box1"},
 "mark":{"type":"rect","fill":"white","stroke":"#222","strokeWidth":1},
 "encoding":{"x":{"field":"x0","type":"quantitative","scale":{"domain":[0.5,1.05],"range":[6.3,193.3],"nice":false,"zero":false},"axis":null},
  "x2":{"field":"x1"},
  "y":{"field":"y0","type":"quantitative","scale":{"type":"log","domain":[1.118,20.2],"range":[264,156],"nice":false,"zero":false},"axis":null},
  "y2":{"field":"y1"}}},
{"data":{"name":"a"},
 "mark":{"type":"line","color":"black","strokeWidth":2,"interpolate":"monotone"},
 "encoding":{"x":{"field":"t","type":"quantitative","scale":{"domain":[0.5,1.05],"range":[6.3,193.3],"nice":false,"zero":false},
   "axis":{"orient":"top","offset":-156,"zindex":1,"values":[0.6,0.8,1.0],"format":".1f","labelFontSize":14,"tickSize":4,"labelPadding":3,"title":"t (years)","titleFontSize":14,"titlePadding":3}},
  "y":{"field":"a","type":"quantitative","scale":{"type":"log","domain":[1.118,20.2],"range":[264,156],"nice":false,"zero":false},
   "axis":{"orient":"right","offset":-430.4,"zindex":1,"values":[2,3,4,5,6,7,8,9,10,20],"labelExpr":"datum.value == 20 ? '2 × 10¹' : datum.value == 10 ? '10¹' : datum.value == 2 ? '2 × 10⁰' : ''","labelFontSize":14,"tickSize":{"condition":{"test":"datum.value == 2 || datum.value == 10 || datum.value == 20","value":4},"value":2},"labelPadding":3,"title":"a(t)","titleFontSize":14,"titleAngle":270,"titleBaseline":"top","titlePadding":5}}}},
{"data":{"name":"box2"},
 "mark":{"type":"rect","fill":"white","stroke":"#222","strokeWidth":1},
 "encoding":{"x":{"field":"x0","type":"quantitative","scale":{"domain":[-2.05,2.05],"range":[430.3,617.7],"nice":false,"zero":false},"axis":null},
  "x2":{"field":"x1"},
  "y":{"field":"y0","type":"quantitative","scale":{"type":"symlog","constant":0.75,"domain":[-12.17,0.071],"range":[264,156],"nice":false,"zero":false},"axis":null},
  "y2":{"field":"y1"}}},
{"data":{"name":"u"},
 "mark":{"type":"line","strokeWidth":1.5,"interpolate":"monotone"},
 "encoding":{"x":{"field":"x","type":"quantitative","scale":{"domain":[-2.05,2.05],"range":[430.3,617.7],"nice":false,"zero":false},
   "axis":{"orient":"top","offset":-156,"zindex":1,"values":[-2,-1,0,1,2],"format":"d","labelFontSize":14,"tickSize":4,"labelPadding":3,"title":"x","titleFontSize":14,"titleFontStyle":"italic","titlePadding":2}},
  "y":{"field":"u","type":"quantitative","scale":{"type":"symlog","constant":0.75,"domain":[-12.17,0.071],"range":[264,156],"nice":false,"zero":false},
   "axis":{"orient":"left","offset":-430.3,"zindex":1,"values":[0,-1,-10],"labelExpr":"datum.value == 0 ? '0' : datum.value == -1 ? '−10⁰' : '−10¹'","labelFontSize":14,"tickSize":4,"labelPadding":3,"title":"u(x, t)","titleFontSize":14,"titleFontStyle":"italic","titlePadding":7}},
  "color":{"field":"t","type":"quantitative","scale":{"scheme":"magma","domain":[0.5,1]},"legend":null},
  "strokeDash":{"field":"k","type":"nominal","scale":{"domain":["s","d"],"range":[[1,0],[5,2]]},"legend":null},
  "detail":{"field":"i","type":"nominal"}}},
{"data":{"values":[{"c":0.5},{"c":1.0}]},
 "mark":{"type":"rule","opacity":0},
 "encoding":{"y":{"field":"c","type":"quantitative","scale":{"domain":[0.5,1],"nice":false,"zero":false},
  "axis":{"orient":"right","offset":53,"values":[0.5,0.6,0.7,0.8,0.9,1.0],"format":".1f","labelFontSize":17,"tickSize":5,"labelPadding":4,"title":"t (years)","titleFontSize":17,"titleAngle":270,"titleBaseline":"top","titlePadding":5}}}}
]
}
